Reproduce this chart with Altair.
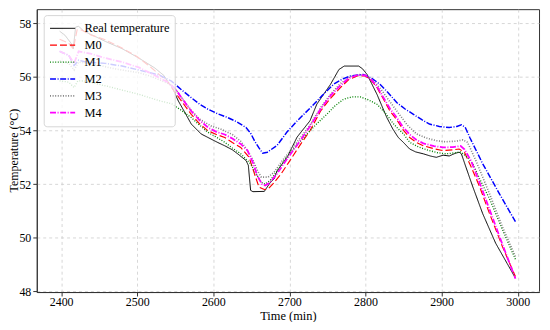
import altair as alt
import pandas as pd

series_names = ["Real temperature", "M0", "M1", "M2", "M3", "M4"]
series_colors = ["#000000", "#ff0000", "#008000", "#0000ff", "#808080", "#ff00ff"]
series_dash = [[1, 0], [7, 3], [1, 1.6], [6, 1.6, 1, 1.6], [1, 1.6], [6, 1.6, 1, 1.6]]
series_width = [1.0, 1.8, 0.9, 0.8, 0.9, 1.3]

real_x = [2398, 2405, 2413, 2416, 2419, 2423, 2430, 2445, 2458, 2480, 2502, 2523, 2535, 2541,
          2545, 2554, 2562, 2571, 2584, 2597, 2606, 2615, 2625, 2632, 2643, 2646, 2649, 2652,
          2667, 2675, 2680, 2684, 2697, 2710, 2727, 2736, 2745, 2754, 2765, 2772, 2791, 2796,
          2802, 2808, 2815, 2828, 2836, 2843, 2850, 2858, 2866, 2876, 2885, 2893, 2902, 2910,
          2918, 2923, 2926, 2932, 2941, 2954, 2971, 2986, 2997]
real_y = [57.70, 57.55, 57.25, 57.05, 57.85, 57.88, 57.70, 57.50, 57.32, 57.05, 56.70, 56.33, 56.05, 55.78,
          55.66, 55.10, 54.70, 54.24, 53.87, 53.68, 53.55, 53.43, 53.28, 53.13, 52.88, 52.70, 51.77, 51.72,
          51.73, 52.07, 52.20, 52.50, 53.00, 53.75, 54.36, 54.98, 55.35, 55.72, 56.27, 56.40, 56.40, 56.30,
          56.09, 55.75, 55.35, 54.48, 54.05, 53.74, 53.55, 53.31, 53.20, 53.13, 53.05, 53.00, 53.08, 53.05,
          53.15, 53.19, 53.13, 52.63, 51.90, 50.90, 49.80, 49.05, 48.50]

m0_x = [2398, 2410, 2416, 2421, 2426, 2440, 2458, 2480, 2500, 2519, 2541, 2545, 2558, 2571, 2582,
        2593, 2604, 2615, 2625, 2636, 2647, 2654, 2660, 2667, 2672, 2678, 2689, 2700, 2715, 2727,
        2741, 2754, 2767, 2778, 2789, 2800, 2808, 2815, 2823, 2832, 2841, 2850, 2858, 2867, 2876,
        2890, 2902, 2915, 2923, 2930, 2939, 2950, 2963, 2980, 2997]
m0_y = [57.40, 57.25, 57.05, 57.75, 57.75, 57.55, 57.38, 57.07, 56.75, 56.33, 55.78, 55.60, 55.10, 54.60, 54.25,
        53.99, 53.85, 53.74, 53.55, 53.37, 53.00, 52.39, 51.89, 51.80, 51.82, 52.00, 52.38, 52.85, 53.50, 53.99,
        54.73, 55.20, 55.60, 55.90, 56.03, 56.03, 55.85, 55.60, 55.20, 54.73, 54.40, 54.00, 53.74, 53.55, 53.43,
        53.32, 53.25, 53.28, 53.31, 53.19, 52.63, 51.90, 50.90, 49.67, 48.56]

m1_x = [2398, 2410, 2417, 2422, 2432, 2460, 2502, 2530, 2545, 2558, 2571, 2582, 2593, 2604, 2615,
        2625, 2636, 2649, 2656, 2663, 2668, 2675, 2684, 2693, 2708, 2723, 2736, 2749, 2760, 2771,
        2782, 2793, 2803, 2815, 2826, 2837, 2845, 2850, 2858, 2870, 2884, 2895, 2906, 2918, 2925,
        2932, 2941, 2950, 2963, 2980, 2997]
m1_y = [55.85, 55.80, 55.60, 55.85, 55.84, 55.65, 55.35, 55.10, 55.00, 54.75, 54.48, 54.20, 53.93, 53.75, 53.56,
        53.35, 53.13, 52.76, 52.40, 52.07, 52.00, 52.15, 52.50, 52.88, 53.40, 53.87, 54.25, 54.60, 54.92, 55.16,
        55.25, 55.25, 55.15, 54.98, 54.65, 54.24, 54.00, 53.87, 53.56, 53.38, 53.25, 53.17, 53.13, 53.17, 53.20,
        53.05, 52.76, 52.20, 51.45, 50.30, 49.20]

m2_x = [2398, 2410, 2417, 2423, 2432, 2458, 2480, 2510, 2530, 2545, 2558, 2571, 2582, 2593, 2606,
        2619, 2631, 2643, 2649, 2654, 2660, 2665, 2671, 2684, 2697, 2710, 2728, 2743, 2758, 2770,
        2780, 2797, 2808, 2819, 2830, 2841, 2852, 2863, 2874, 2884, 2897, 2910, 2920, 2926, 2931,
        2937, 2954, 2976, 2997]
m2_y = [56.95, 56.80, 56.42, 56.62, 56.55, 56.50, 56.40, 56.20, 56.05, 55.84, 55.52, 55.22, 54.98, 54.79, 54.62,
        54.48, 54.32, 54.11, 53.90, 53.62, 53.35, 53.15, 53.19, 53.45, 53.95, 54.35, 54.86, 55.30, 55.72, 55.92,
        56.03, 56.09, 55.95, 55.72, 55.40, 55.04, 54.80, 54.60, 54.40, 54.24, 54.15, 54.11, 54.15, 54.21, 54.12,
        53.74, 52.76, 51.64, 50.60]

m3_x = [2398, 2410, 2417, 2423, 2445, 2470, 2502, 2520, 2541, 2550, 2560, 2571, 2582, 2597, 2610,
        2625, 2636, 2645, 2652, 2658, 2663, 2672, 2680, 2690, 2700, 2715, 2727, 2741, 2754, 2767,
        2780, 2792, 2800, 2810, 2820, 2830, 2841, 2855, 2867, 2880, 2893, 2905, 2919, 2928, 2934,
        2945, 2963, 2980, 2997]
m3_y = [56.60, 56.50, 56.25, 56.55, 56.46, 56.30, 56.15, 56.00, 55.75, 55.55, 55.15, 54.75, 54.42, 54.17, 54.05,
        53.85, 53.60, 53.25, 52.90, 52.50, 52.26, 52.26, 52.45, 52.85, 53.20, 53.75, 54.20, 54.85, 55.35, 55.75,
        56.00, 56.08, 56.05, 55.85, 55.55, 55.15, 54.73, 54.20, 53.87, 53.72, 53.62, 53.58, 53.60, 53.65, 53.56,
        52.88, 51.64, 50.40, 49.30]

m4_x = [2398, 2410, 2417, 2423, 2440, 2458, 2480, 2502, 2520, 2541, 2550, 2560, 2571, 2582, 2593,
        2604, 2615, 2625, 2636, 2645, 2652, 2658, 2664, 2668, 2674, 2684, 2697, 2710, 2727, 2741,
        2754, 2767, 2778, 2790, 2800, 2808, 2815, 2823, 2832, 2841, 2850, 2858, 2867, 2876, 2890,
        2902, 2915, 2925, 2930, 2939, 2950, 2963, 2980, 2997]
m4_y = [56.95, 56.80, 56.50, 56.95, 56.85, 56.70, 56.55, 56.35, 56.10, 55.78, 55.55, 55.15, 54.72, 54.38, 54.11,
        53.95, 53.85, 53.70, 53.50, 53.25, 52.80, 52.30, 52.00, 51.95, 52.05, 52.40, 52.95, 53.45, 54.15, 54.80,
        55.30, 55.68, 55.95, 56.07, 56.05, 55.88, 55.65, 55.25, 54.82, 54.48, 54.10, 53.85, 53.65, 53.52, 53.42,
        53.37, 53.38, 53.42, 53.30, 52.85, 52.05, 51.05, 49.75, 48.48]

x_ticks = [2400, 2500, 2600, 2700, 2800, 2900, 3000]
y_ticks = [48, 50, 52, 54, 56, 58]

all_x = [real_x, m0_x, m1_x, m2_x, m3_x, m4_x]
all_y = [real_y, m0_y, m1_y, m2_y, m3_y, m4_y]
rows = []
for k, (name, xs, ys) in enumerate(zip(series_names, all_x, all_y)):
    for i, (xv, yv) in enumerate(zip(xs, ys)):
        rows.append({"series": name, "x": xv, "y": yv, "k": k, "i": i})
df = pd.DataFrame(rows)

FONT = "'Liberation Serif', 'Times New Roman', serif"

chart = alt.Chart(df).mark_line(clip=True).encode(
    x=alt.X("x:Q", title="Time (min)",
            scale=alt.Scale(domain=[2368, 3028], nice=False, zero=False),
            axis=alt.Axis(values=x_ticks, format="d", tickSize=4, labelPadding=1,
                          titlePadding=2)),
    y=alt.Y("y:Q", title="Temperature (°C)",
            scale=alt.Scale(domain=[47.98, 58.52], nice=False, zero=False),
            axis=alt.Axis(values=y_ticks, format="d", tickSize=4, labelPadding=2,
                          titleX=-16.5, titleY=142, titleAngle=-90, titleBaseline="bottom",
                          titleAlign="center", titleFontSize=12)),
    color=alt.Color("series:N", sort=series_names,
                    scale=alt.Scale(domain=series_names, range=series_colors),
                    legend=alt.Legend(title=None, orient="none", legendX=7, legendY=6,
                                      symbolType="stroke", symbolSize=640, symbolOffset=0,
                                      fillColor="rgba(255,255,255,0.8)", strokeColor="#d6d6d6",
                                      cornerRadius=3, padding=5, rowPadding=0, clipHeight=16.6,
                                      labelFont=FONT, labelFontSize=12.5, labelColor="#000",
                                      labelOffset=8)),
    strokeDash=alt.StrokeDash("series:N", sort=series_names,
                              scale=alt.Scale(domain=series_names, range=series_dash)),
    strokeWidth=alt.StrokeWidth("series:N", sort=series_names,
                                scale=alt.Scale(domain=series_names, range=series_width)),
    order=alt.Order("i:Q"),
    detail="k:O",
).properties(
    width=506, height=285,
    autosize=alt.AutoSizeParams(type="none"),
    padding={"left": 29, "top": 0, "right": 3, "bottom": 29},
).configure_view(
    stroke="#333333", strokeWidth=1
).configure_axis(
    labelFont=FONT, titleFont=FONT, labelFontSize=12, titleFontSize=12.5,
    titleFontWeight="normal", labelColor="#000", titleColor="#000",
    domainColor="#333333", tickColor="#333333",
    gridColor="#cccccc", gridDash=[3, 3], gridWidth=0.8,
)

chart.save("out.html", embed_options={"renderer": "svg", "actions": False})
